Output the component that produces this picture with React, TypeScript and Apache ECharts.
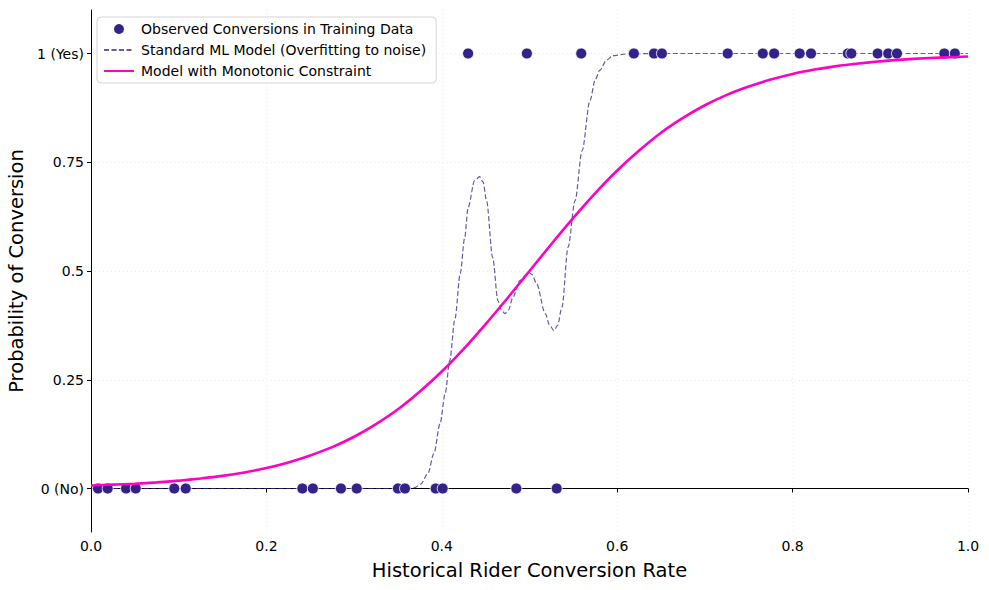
import { useEffect, useRef } from 'react';
import * as echarts from 'echarts';

// training points
const rateNo = [0.008, 0.019, 0.040, 0.051, 0.095, 0.108, 0.241, 0.253, 0.285, 0.303, 0.350, 0.358, 0.393, 0.401, 0.485, 0.531];
const rateYes = [0.430, 0.497, 0.559, 0.619, 0.642, 0.651, 0.726, 0.766, 0.779, 0.808, 0.821, 0.863, 0.867, 0.897, 0.909, 0.919, 0.973, 0.985];

// monotonic model curve
const monoX = [0, 0.025, 0.05, 0.075, 0.1, 0.125, 0.15, 0.175, 0.2, 0.225, 0.25, 0.275, 0.3, 0.325, 0.35, 0.375, 0.4, 0.425, 0.45, 0.475, 0.5, 0.525, 0.55, 0.575, 0.6, 0.625, 0.65, 0.675, 0.7, 0.725, 0.75, 0.775, 0.8, 0.825, 0.85, 0.875, 0.9, 0.925, 0.95, 0.975, 1];
const monoY = [0.007, 0.009, 0.011, 0.014, 0.018, 0.023, 0.029, 0.037, 0.047, 0.06, 0.076, 0.095, 0.119, 0.148, 0.182, 0.223, 0.269, 0.321, 0.378, 0.438, 0.5, 0.562, 0.622, 0.679, 0.731, 0.777, 0.818, 0.852, 0.881, 0.905, 0.924, 0.94, 0.953, 0.963, 0.971, 0.977, 0.982, 0.986, 0.989, 0.991, 0.993];

// overfitting model curve
const overfitX = [0, 0.1, 0.2, 0.3, 0.36, 0.369, 0.376, 0.384, 0.391, 0.398, 0.404, 0.409, 0.415, 0.421, 0.426, 0.43, 0.4375, 0.443, 0.447, 0.451, 0.458, 0.464, 0.468, 0.472, 0.476, 0.481, 0.489, 0.499, 0.503, 0.508, 0.518, 0.523, 0.528, 0.532, 0.537, 0.544, 0.552, 0.56, 0.569, 0.575, 0.58, 0.588, 0.595, 0.611, 0.65, 0.8, 1];
const overfitY = [0, 0, 0, 0, 0, 0.002, 0.01, 0.034, 0.08, 0.149, 0.22, 0.294, 0.39, 0.494, 0.575, 0.646, 0.708, 0.717, 0.705, 0.662, 0.531, 0.432, 0.41, 0.402, 0.41, 0.439, 0.478, 0.497, 0.492, 0.471, 0.402, 0.375, 0.363, 0.375, 0.417, 0.555, 0.662, 0.777, 0.892, 0.94, 0.961, 0.985, 0.995, 0.999, 1, 1, 1];

const yTicks = [0, 0.25, 0.5, 0.75, 1];
const yTickLabels = ['0 (No)', '0.25', '0.5', '0.75', '1 (Yes)'];

const FONT = 'DejaVu Sans';
const dotColor = '#332288';
const dashColor = 'rgba(51,34,136,0.75)';
const pink = '#ff00c4';

export default function App() {
  const ref = useRef<HTMLDivElement>(null);

  useEffect(() => {
    document.body.style.margin = '0';
    if (!ref.current) return;
    const chart = echarts.init(ref.current, undefined, { renderer: 'svg' });

    const scatterData = [
      ...rateNo.map((x) => [x, 0]),
      ...rateYes.map((x) => [x, 1]),
    ];

    const splitLine = { show: true, lineStyle: { color: '#e6e6e6', type: [1, 3], width: 0.8 } };

    chart.setOption({
      animation: false,
      textStyle: { fontFamily: FONT },
      grid: { left: 91, right: 21, top: 10, bottom: 58, outerBoundsMode: 'none' },
      legend: {
        orient: 'vertical',
        left: 97,
        top: 17,
        padding: [5, 10, 5, 6],
        itemWidth: 30,
        itemHeight: 12,
        itemGap: 7,
        backgroundColor: 'rgba(255,255,255,0.85)',
        borderColor: '#d5d5d5',
        borderWidth: 1,
        borderRadius: 4,
        textStyle: { fontFamily: FONT, fontSize: 14, color: '#000', padding: [0, 0, 0, 2] },
        data: [
          { name: 'Observed Conversions in Training Data', icon: 'circle' },
          { name: 'Standard ML Model (Overfitting to noise)', itemStyle: { opacity: 0 } },
          { name: 'Model with Monotonic Constraint', itemStyle: { opacity: 0 } },
        ],
      },
      xAxis: {
        type: 'value',
        min: 0,
        max: 1,
        interval: 0.2,
        name: 'Historical Rider Conversion Rate',
        nameLocation: 'middle',
        nameGap: 28,
        nameTextStyle: { fontFamily: FONT, fontSize: 19.5, color: '#000' },
        axisLine: { lineStyle: { color: '#000', width: 1 } },
        axisTick: { length: 4, lineStyle: { color: '#000' } },
        axisLabel: {
          color: '#000',
          fontSize: 14,
          margin: 7,
          fontFamily: FONT,
          formatter: (v: number) => v.toFixed(1),
        },
        splitLine,
      },
      yAxis: {
        type: 'value',
        min: -0.1,
        max: 1.1,
        name: 'Probability of Conversion',
        nameLocation: 'middle',
        nameGap: 62,
        nameTextStyle: { fontFamily: FONT, fontSize: 19.5, color: '#000' },
        axisLine: { show: true, lineStyle: { color: '#000', width: 1 } },
        axisTick: { show: true, length: 4, lineStyle: { color: '#000' }, customValues: yTicks },
        axisLabel: {
          color: '#000',
          fontSize: 14,
          margin: 7,
          fontFamily: FONT,
          customValues: yTicks,
          formatter: (v: number) => {
            const i = yTicks.findIndex((t) => Math.abs(t - v) < 1e-6);
            return i >= 0 ? yTickLabels[i] : '';
          },
        },
        splitLine,
      },
      series: [
        {
          name: 'Observed Conversions in Training Data',
          type: 'scatter',
          z: 3,
          symbolSize: 11,
          itemStyle: { color: dotColor, borderColor: '#fff', borderWidth: 0.8, opacity: 1 },
          data: scatterData,
        },
        {
          name: 'Standard ML Model (Overfitting to noise)',
          type: 'line',
          z: 2,
          showSymbol: false,
          symbol: 'none',
          smooth: 0.3,
          smoothMonotone: 'x',
          color: dashColor,
          lineStyle: { color: dashColor, width: 1.2, type: [5, 2.5] },
          data: overfitX.map((x, i) => [x, overfitY[i]]),
        },
        {
          name: 'Model with Monotonic Constraint',
          type: 'line',
          z: 4,
          showSymbol: false,
          symbol: 'none',
          smooth: 0.3,
          color: pink,
          lineStyle: { color: pink, width: 2.6 },
          data: monoX.map((x, i) => [x, monoY[i]]),
        },
      ],
    });

    return () => chart.dispose();
  }, []);

  return <div ref={ref} style={{ width: 989, height: 590 }} />;
}
